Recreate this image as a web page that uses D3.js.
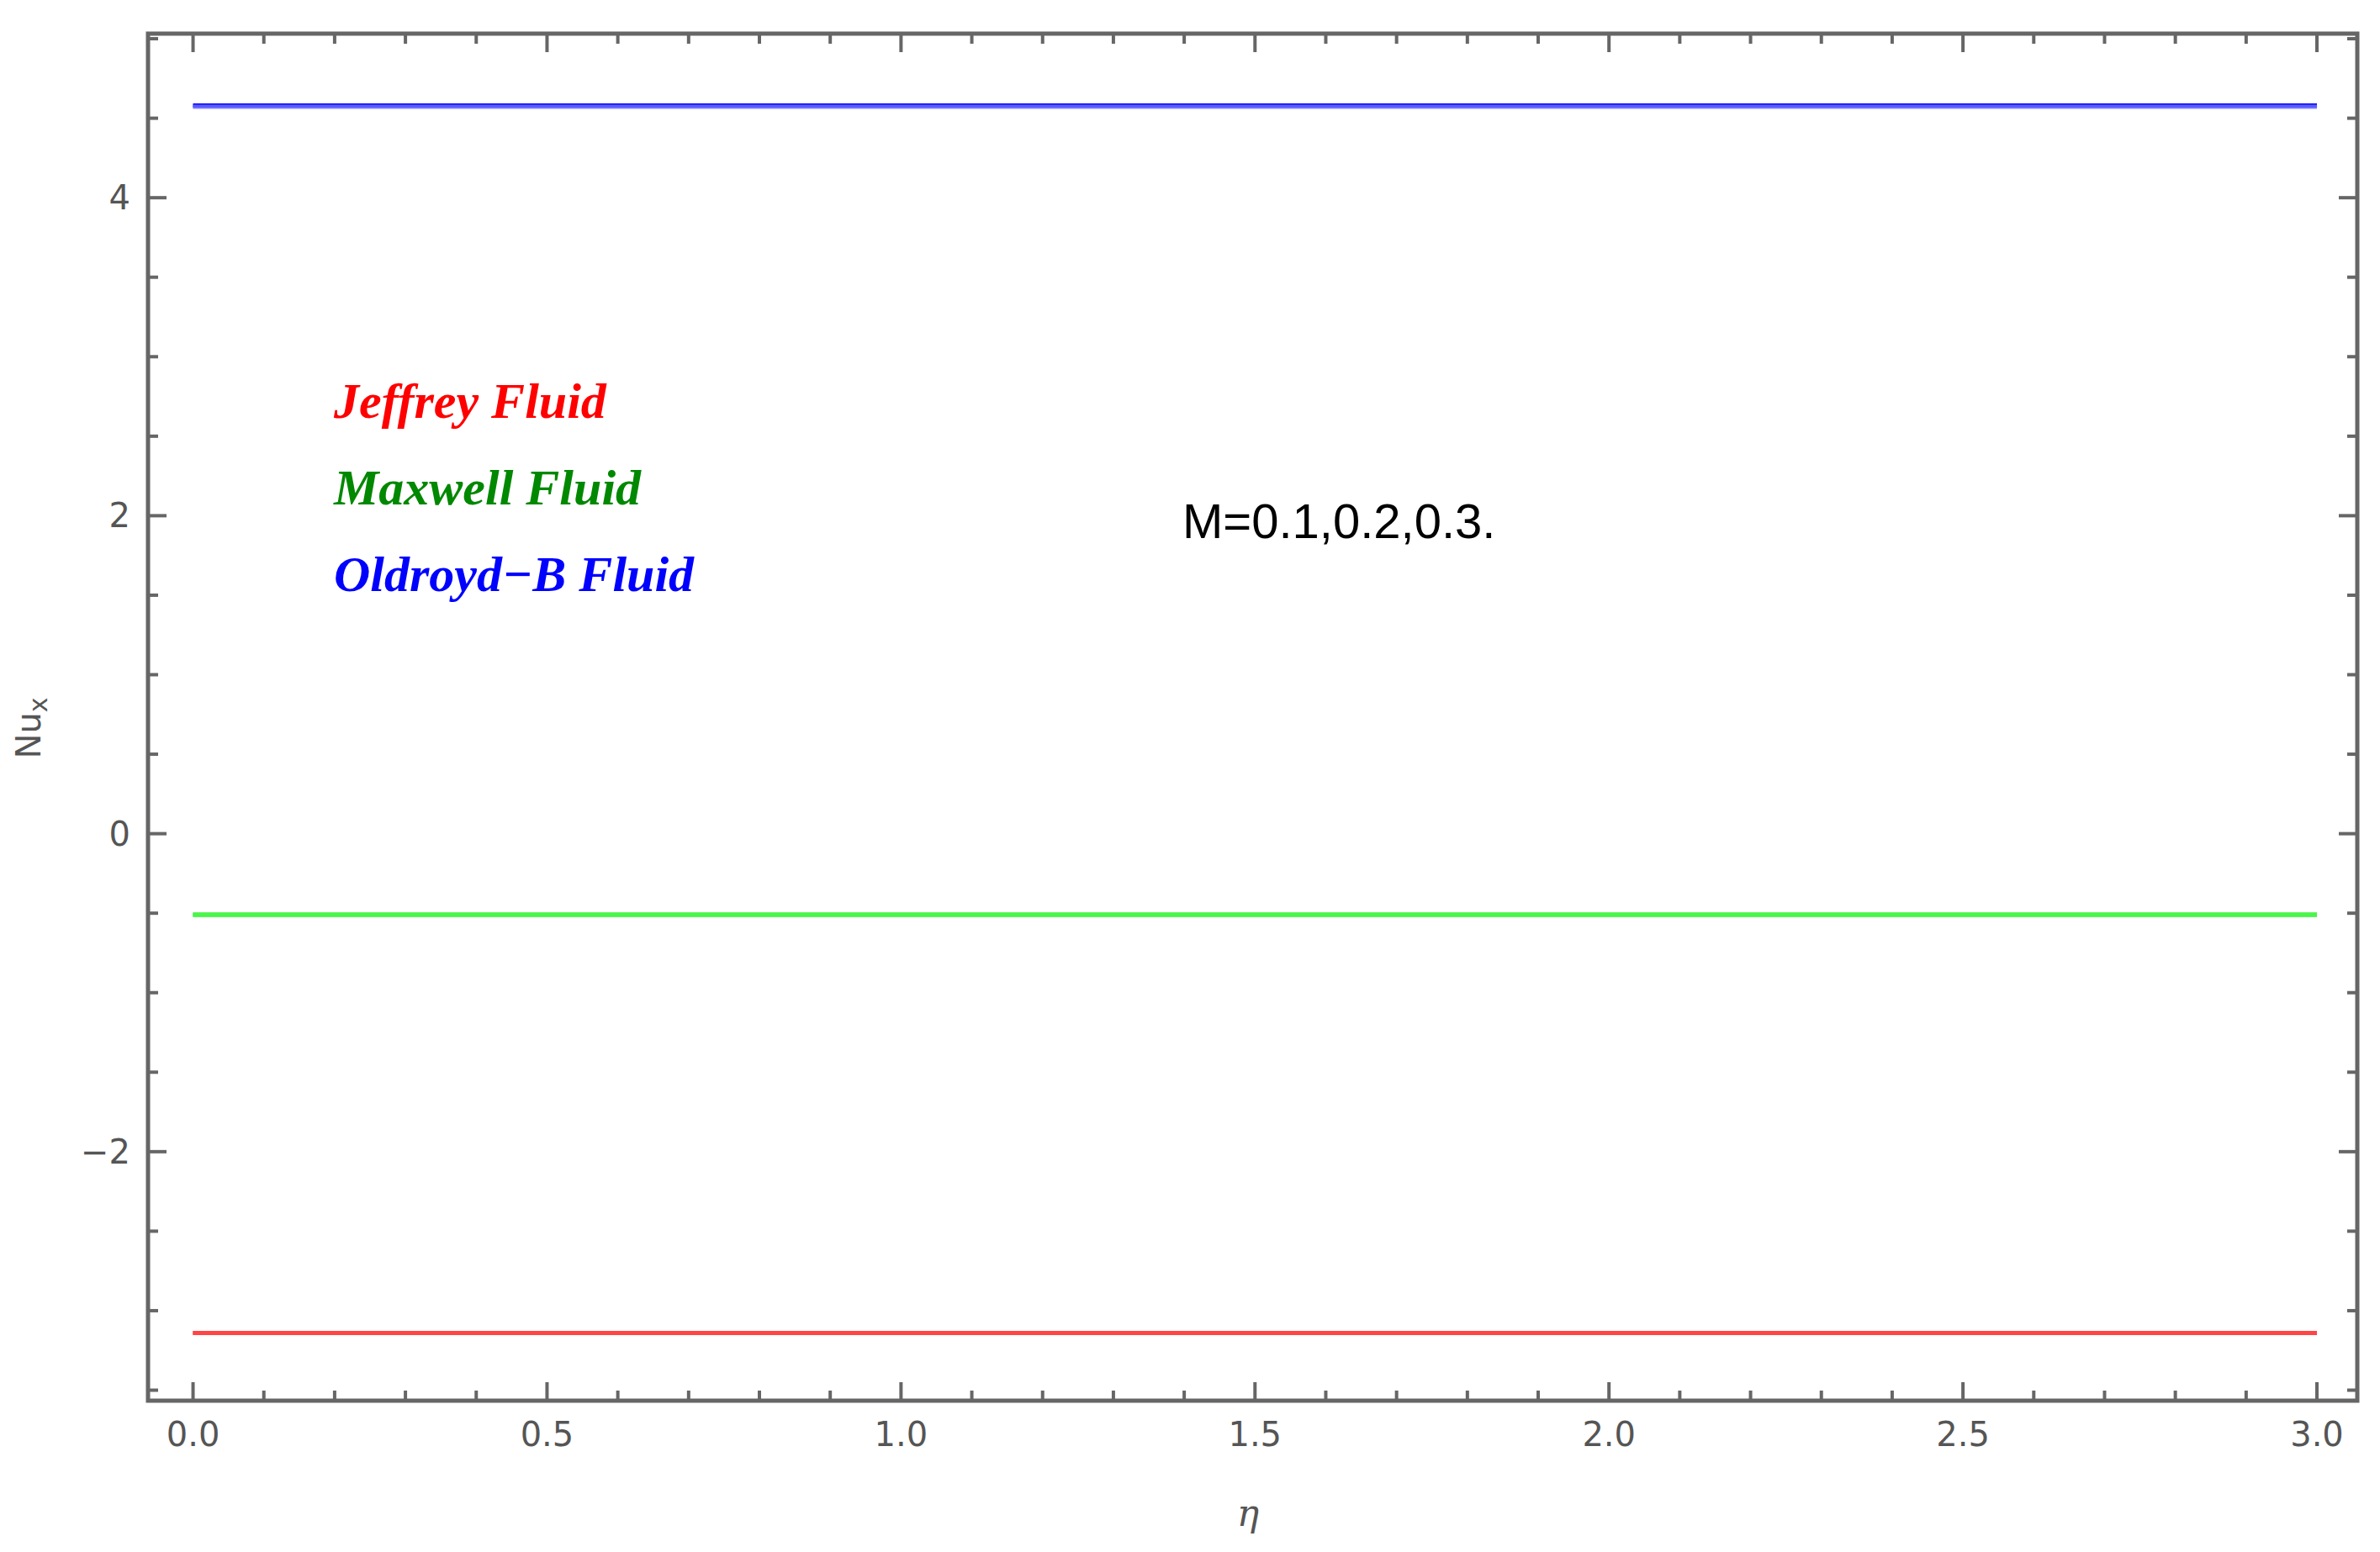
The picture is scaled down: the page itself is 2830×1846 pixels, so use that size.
<!DOCTYPE html>
<html><head><meta charset="utf-8">
<script src="https://cdn.jsdelivr.net/npm/d3@7"></script>
<style>body{margin:0;background:#fff}</style></head>
<body><svg id="c" width="2830" height="1846"></svg>
<script>
// eta grid and Nu_x values for M = 0.1, 0.2, 0.3 (curves lie on top of each other)
const etaDomain = [0, 3];
const mValues = ["0.1", "0.2", "0.3"];
const jeffrey = [-3.14, -3.14, -3.14];
const maxwell = [-0.51, -0.51, -0.51];
const oldroyd = [4.58, 4.575, 4.57];
const xTicks = [0, 0.5, 1, 1.5, 2, 2.5, 3];
const yTicks = [-2, 0, 2, 4];

const svg = d3.select("#c");
const pLeft = 176, pRight = 2803, pTop = 40, pBottom = 1666;
const x = d3.scaleLinear().domain([-0.0636, 3.057]).range([pLeft, pRight]);
const y = d3.scaleLinear().domain([-3.566, 5.032]).range([pBottom, pTop]);
const frame = "#666";

// minor/major ticks on all four sides, pointing inward
const xMinor = d3.range(0, 3.06, 0.1);
const yMinor = d3.range(-3.5, 5.01, 0.5);
const g = svg.append("g").attr("stroke", frame).attr("stroke-width", 4);
xMinor.forEach(v => {
  const major = xTicks.some(t => Math.abs(t - v) < 1e-6);
  const len = major ? 22 : 12;
  g.append("line").attr("x1", x(v)).attr("x2", x(v)).attr("y1", pBottom).attr("y2", pBottom - len);
  g.append("line").attr("x1", x(v)).attr("x2", x(v)).attr("y1", pTop).attr("y2", pTop + len);
});
yMinor.forEach(v => {
  const major = yTicks.some(t => Math.abs(t - v) < 1e-6);
  const len = major ? 22 : 12;
  g.append("line").attr("y1", y(v)).attr("y2", y(v)).attr("x1", pLeft).attr("x2", pLeft + len);
  g.append("line").attr("y1", y(v)).attr("y2", y(v)).attr("x1", pRight).attr("x2", pRight - len);
});
svg.append("rect").attr("x", pLeft).attr("y", pTop).attr("width", pRight - pLeft).attr("height", pBottom - pTop)
  .attr("fill", "none").attr("stroke", frame).attr("stroke-width", 5);

const lab = svg.append("g").attr("fill", "#555").attr("font-family", "DejaVu Sans, sans-serif").attr("font-size", 40);
xTicks.forEach(t => lab.append("text").attr("x", x(t)).attr("y", 1720).attr("text-anchor", "middle").text(t.toFixed(1)));
yTicks.forEach(t => lab.append("text").attr("x", 155).attr("y", y(t) + 14).attr("text-anchor", "end").text(t === -2 ? "\u22122" : t));

svg.append("text").attr("transform", "translate(48,866) rotate(-90)").attr("text-anchor", "middle")
  .attr("fill", "#555").attr("font-family", "DejaVu Sans, sans-serif").attr("font-size", 40)
  .html('Nu<tspan font-size="30" dy="8">x</tspan>');
svg.append("text").attr("x", 1484).attr("y", 1815).attr("text-anchor", "middle")
  .attr("fill", "#555").attr("font-family", "DejaVu Serif, serif").attr("font-style", "italic").attr("font-size", 44).text("η");

// curves
const series = [
  {vals: jeffrey, cols: ["#ff0000", "#ff3030", "#ff6060"]},
  {vals: maxwell, cols: ["#00cc00", "#33ff33", "#66ff66"]},
  {vals: oldroyd, cols: ["#0000ff", "#4040ff", "#8080ff"]}
];
const line = d3.line().x(d => x(d[0])).y(d => y(d[1]));
series.forEach(s => {
  mValues.forEach((m, i) => {
    svg.append("path").datum(etaDomain.map(e => [e, s.vals[i]]))
      .attr("d", line).attr("fill", "none").attr("stroke", s.cols[i]).attr("stroke-width", 5)
      .attr("stroke-opacity", i === 0 ? 1 : 0.6);
  });
});

// legend
const legend = [["Jeffrey Fluid", "#ff0000", 497], ["Maxwell Fluid", "#008800", 600], ["Oldroyd\u2212B Fluid", "#0000ff", 703]];
legend.forEach(l => svg.append("text").attr("x", 397).attr("y", l[2]).attr("fill", l[1])
  .attr("font-family", "Liberation Serif, serif").attr("font-style", "italic").attr("font-weight", "bold")
  .attr("font-size", 60).text(l[0]));
svg.append("text").attr("x", 1406).attr("y", 640).attr("fill", "#000")
  .attr("font-family", "Liberation Sans, sans-serif").attr("font-size", 58).text("M=0.1,0.2,0.3.");
</script></body></html>
